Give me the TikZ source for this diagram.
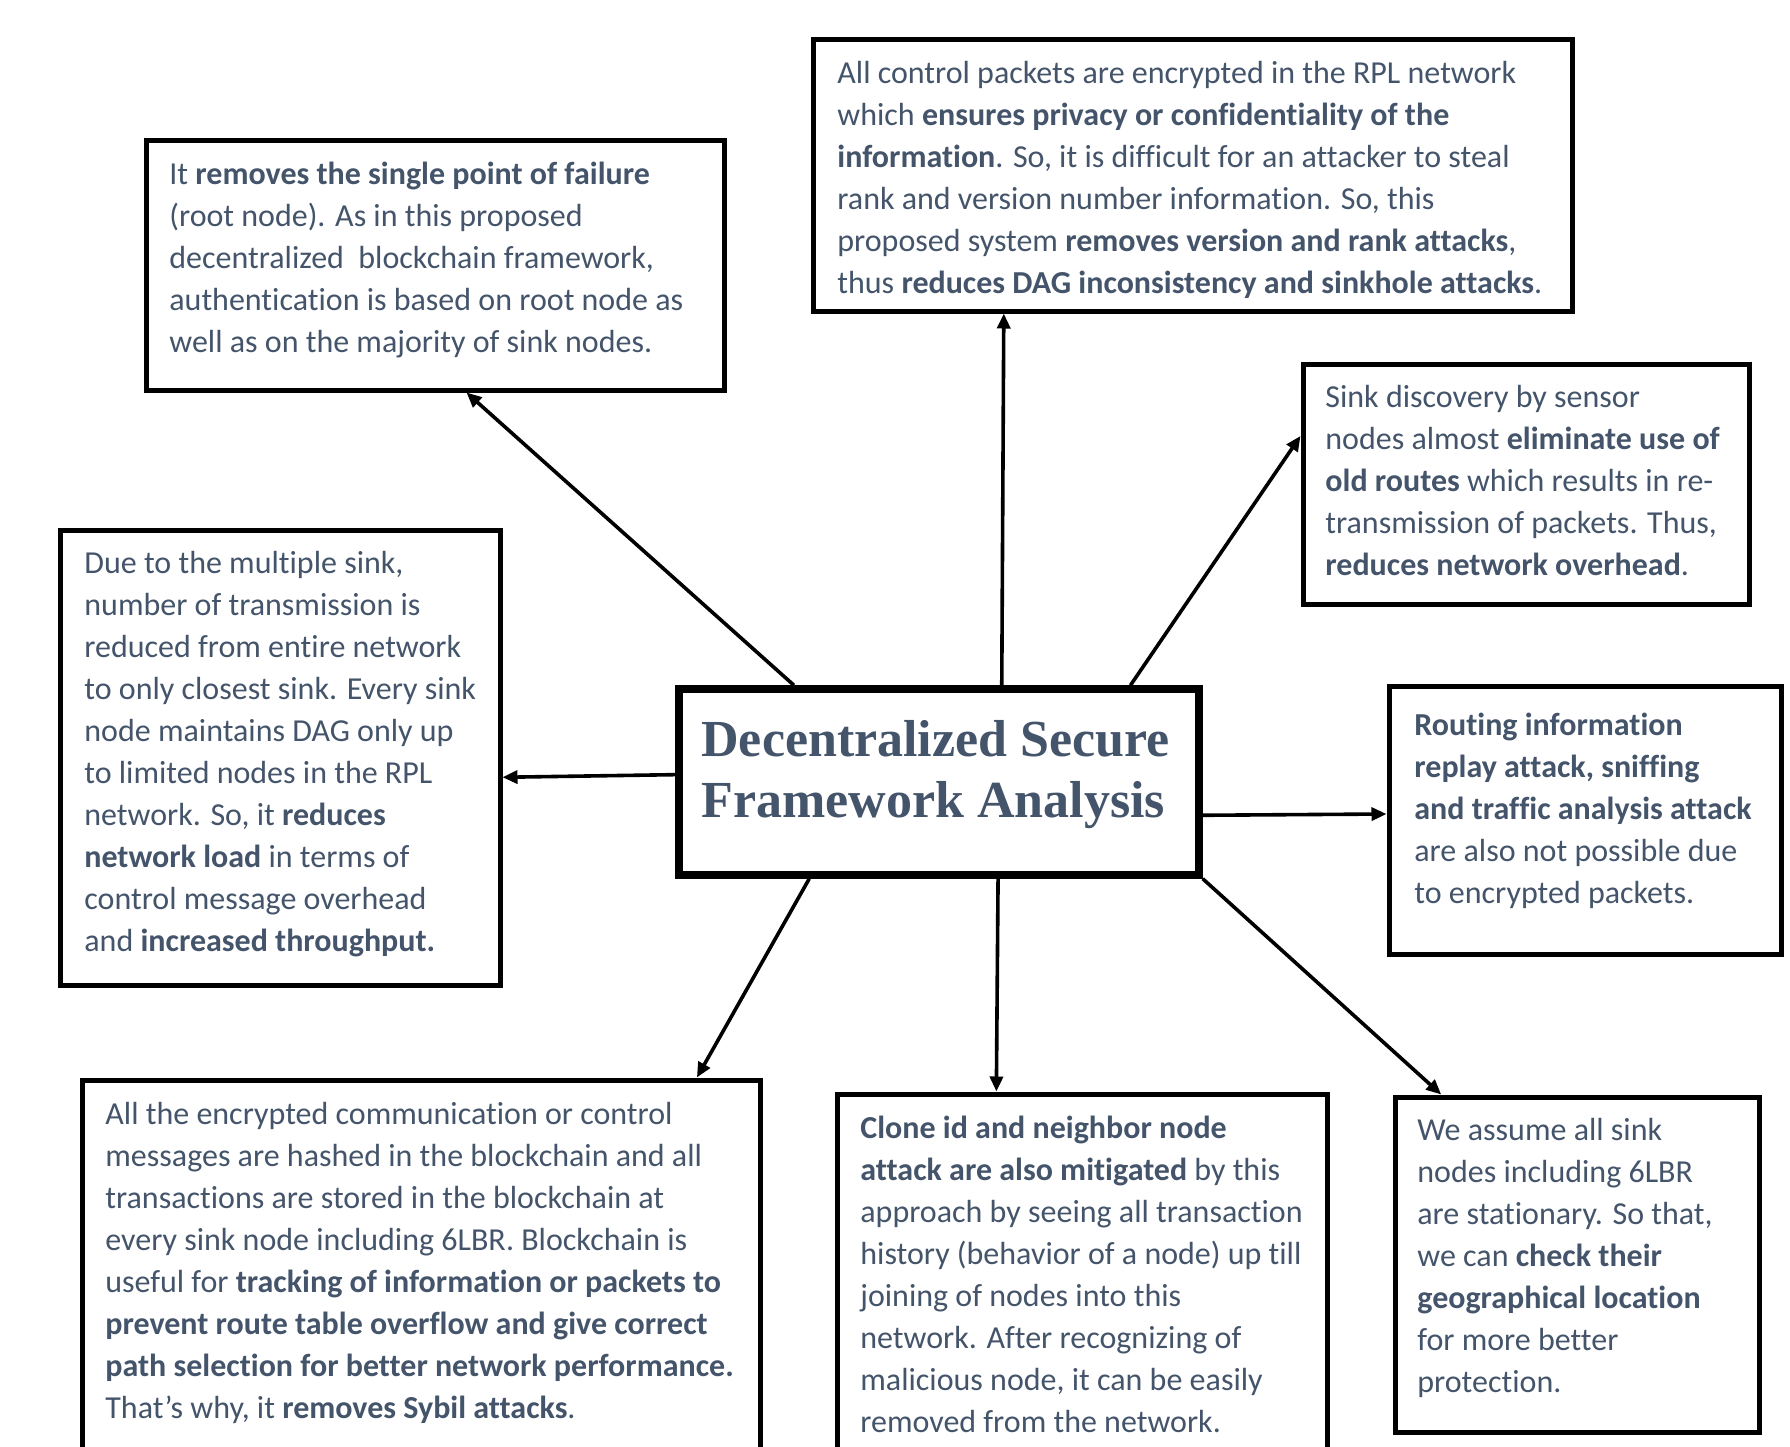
\documentclass[tikz,border=0pt]{standalone}
\usepackage{fontspec}
\setmainfont{Carlito}[Ligatures={TeX,CommonOff}]
\newfontfamily\titlefont{Liberation Serif}
\usetikzlibrary{arrows.meta,calc}
\definecolor{txtc}{HTML}{44546A}
\tikzset{
  box/.style 2 args={draw, line width=2.5pt, inner sep=0pt,
    minimum width=#1*0.5pt, minimum height=#2*0.5pt},
  body/.style={anchor=north west, inner sep=0pt, align=left, text=txtc,
    font=\fontsize{16}{21}\selectfont},
  ttl/.style={anchor=north west, inner sep=0pt, align=left, text=txtc,
    font=\titlefont\bfseries\fontsize{26}{30.5}\selectfont},
  arr/.style={line width=1.8pt, -{Triangle[length=7.5pt,width=6.5pt]}}
}
\begin{document}
\begin{tikzpicture}[x=0.5pt,y=-0.5pt]
\path[use as bounding box, fill=white] (0,0) rectangle (1790,1447);
\clip (0,0) rectangle (1790,1447);

% boxes
\node[box={578}{250}] (TL) at (435,265) {};
\node[box={759}{272}] (TC) at (1192.5,175) {};
\node[box={446}{240}] (R1) at (1526,484) {};
\node[box={440}{455}] (L) at (280,757.5) {};
\node[box={520}{186}, line width=3.7pt] (C) at (939,782) {};
\node[box={392}{268}] (R2) at (1585,820) {};
\node[box={678}{390}] (BL) at (421,1275) {};
\node[box={490}{376}] (BC) at (1082,1282) {};
\node[box={364}{335}] (BR) at (1577,1264.5) {};

% texts
\node[ttl] (Ct) at (701,713.3) {\strut Decentralized Secure\\Framework Analysis};

\node[body] (TLt) at (169,154.6) {\strut It \textbf{removes the single point of failure}\\
(root node). As in this proposed\\
decentralized\ \ blockchain framework,\\
authentication is based on root node as\\
well as on the majority of sink nodes.};

\node[body] (TCt) at (837,53.6) {\strut All control packets are encrypted in the RPL network\\
which \textbf{ensures privacy or confidentiality of the}\\
\textbf{information}. So, it is difficult for an attacker to steal\\
rank and version number information. So, this\\
proposed system \textbf{removes version and rank attacks},\\
thus \textbf{reduces DAG inconsistency and sinkhole attacks}.};

\node[body] (R1t) at (1325,377.6) {\strut Sink discovery by sensor\\
nodes almost \textbf{eliminate use of}\\
\textbf{old routes} which results in re-\\
transmission of packets. Thus,\\
\textbf{reduces network overhead}.};

\node[body] (Lt) at (84,543.6) {\strut Due to the multiple sink,\\
number of transmission is\\
reduced from entire network\\
to only closest sink. Every sink\\
node maintains DAG only up\\
to limited nodes in the RPL\\
network. So, it \textbf{reduces}\\
\textbf{network load} in terms of\\
control message overhead\\
and \textbf{increased throughput.}};

\node[body] (R2t) at (1414,705.6) {\strut\textbf{Routing information}\\
\textbf{replay attack, sniffing}\\
\textbf{and traffic analysis attack}\\
are also not possible due\\
to encrypted packets.};

\node[body] (BLt) at (105,1094.6) {\strut All the encrypted communication or control\\
messages are hashed in the blockchain and all\\
transactions are stored in the blockchain at\\
every sink node including 6LBR. Blockchain is\\
useful for \textbf{tracking of information or packets to}\\
\textbf{prevent route table overflow and give correct}\\
\textbf{path selection for better network performance.}\\
That's why, it \textbf{removes Sybil attacks}.};

\node[body] (BCt) at (860,1108.6) {\strut\textbf{Clone id and neighbor node}\\
\textbf{attack are also mitigated} by this\\
approach by seeing all transaction\\
history (behavior of a node) up till\\
joining of nodes into this\\
network. After recognizing of\\
malicious node, it can be easily\\
removed from the network.};

\node[body] (BRt) at (1417,1110.6) {\strut We assume all sink\\
nodes including 6LBR\\
are stationary. So that,\\
we can \textbf{check their}\\
\textbf{geographical location}\\
for more better\\
protection.};

% connectors
\draw[arr] ($(C.north west)!.225!(C.north east)$) -- ($(TL.south west)!.554!(TL.south east)$);
\draw[arr] ($(C.north west)!.619!(C.north east)$) -- ($(TC.south west)!.253!(TC.south east)$);
\draw[arr] ($(C.north west)!.863!(C.north east)$) -- ($(R1.north west)!.304!(R1.south west)$);
\draw[arr] ($(C.north west)!.462!(C.south west)$) -- ($(L.north east)!.543!(L.south east)$);
\draw[arr] ($(C.north east)!.672!(C.south east)$) -- ($(R2.north west)!.478!(R2.south west)$);
\draw[arr] ($(C.south west)!.254!(C.south east)$) -- ($(BL.north west)!.904!(BL.north east)$);
\draw[arr] ($(C.south west)!.612!(C.south east)$) -- ($(BC.north west)!.327!(BC.north east)$);
\draw[arr] (C.south east) -- ($(BR.north west)!.132!(BR.north east)$);
\end{tikzpicture}
\end{document}
